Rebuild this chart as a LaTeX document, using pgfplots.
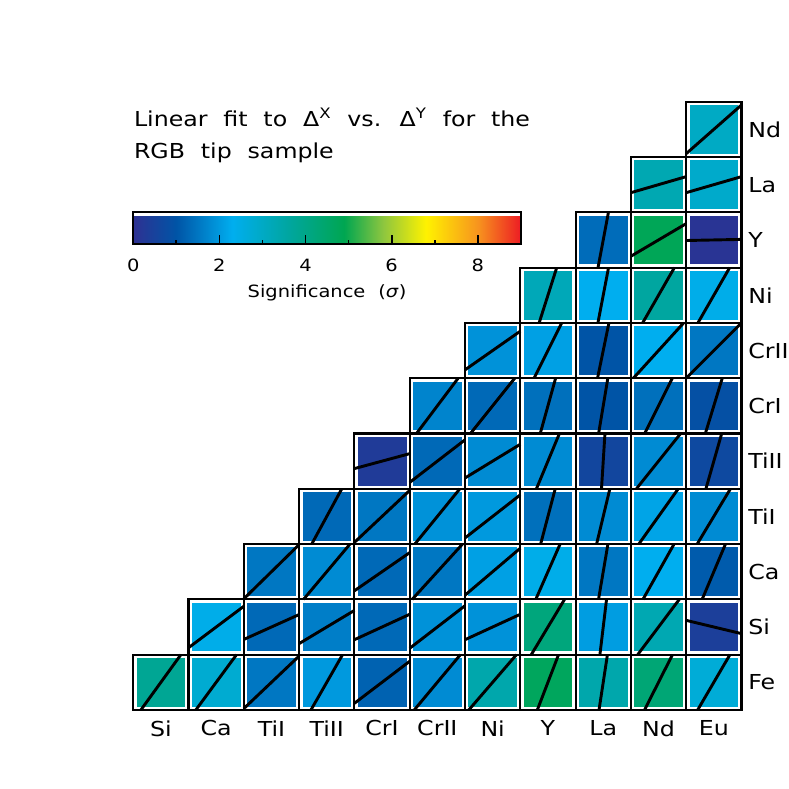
\documentclass[border=0pt]{standalone}
\usepackage{pgfplots}
\pgfplotsset{compat=1.18}
\usepackage{pgfplotstable}
\usepackage{fontspec}
\setmainfont{DejaVu Sans}[FakeStretch=1.15, WordSpace=2.1]

% cell: column, row, significance
\pgfplotstableread{
x y v
0 0 3.8
1 0 2.8
2 0 1.5
3 0 2.0
4 0 1.2
5 0 1.8
6 0 3.4
7 0 4.7
8 0 3.4
9 0 4.3
10 0 2.7
1 1 2.4
2 1 1.3
3 1 1.6
4 1 1.3
5 1 1.9
6 1 1.9
7 1 4.2
8 1 2.05
9 1 3.3
10 1 0.4
2 2 1.5
3 2 1.8
4 2 1.3
5 2 1.5
6 2 2.1
7 2 2.4
8 2 1.5
9 2 2.3
10 2 1.1
3 3 1.3
4 3 1.5
5 3 1.9
6 3 2.0
7 3 1.4
8 3 1.8
9 3 2.15
10 3 1.8
4 4 0.3
5 4 1.3
6 4 1.8
7 4 1.8
8 4 0.6
9 4 1.8
10 4 0.7
5 5 1.7
6 5 1.3
7 5 1.4
8 5 1.0
9 5 1.4
10 5 0.9
6 6 1.9
7 6 2.1
8 6 1.0
9 6 2.3
10 6 1.5
7 7 3.2
8 7 2.3
9 7 3.6
10 7 2.4
8 8 1.35
9 8 4.8
10 8 0.1
9 9 3.3
10 9 2.9
10 10 3.0
}\cells

% fit lines: two end points per cell, cut at the cell frame
\pgfplotstableread{
x y
-0.362 -0.5
0.362 0.5
nan nan
0.632 -0.5
1.368 0.5
nan nan
1.5 -0.475
2.5 0.475
nan nan
2.714 -0.5
3.286 0.5
nan nan
3.5 -0.38
4.5 0.38
nan nan
4.583 -0.5
5.417 0.5
nan nan
5.569 -0.5
6.431 0.5
nan nan
6.808 -0.5
7.192 0.5
nan nan
7.924 -0.5
8.076 0.5
nan nan
8.747 -0.5
9.253 0.5
nan nan
9.708 -0.5
10.292 0.5
nan nan
0.5 0.625
1.5 1.375
nan nan
1.5 0.775
2.5 1.225
nan nan
2.5 0.7
3.5 1.3
nan nan
3.5 0.77
4.5 1.23
nan nan
4.5 0.615
5.5 1.385
nan nan
5.5 0.77
6.5 1.23
nan nan
6.699 0.5
7.301 1.5
nan nan
7.94 0.5
8.06 1.5
nan nan
8.624 0.5
9.376 1.5
nan nan
9.5 1.12
10.5 0.88
nan nan
1.5 1.51
2.5 2.49
nan nan
2.58 1.5
3.42 2.5
nan nan
3.5 1.655
4.5 2.345
nan nan
4.545 1.5
5.455 2.5
nan nan
5.5 1.575
6.5 2.425
nan nan
6.78 1.5
7.22 2.5
nan nan
7.915 1.5
8.085 2.5
nan nan
8.719 1.5
9.281 2.5
nan nan
9.789 1.5
10.211 2.5
nan nan
2.728 2.5
3.272 3.5
nan nan
3.5 2.53
4.5 3.47
nan nan
4.593 2.5
5.407 3.5
nan nan
5.5 2.61
6.5 3.39
nan nan
6.868 2.5
7.132 3.5
nan nan
7.88 2.5
8.12 3.5
nan nan
8.643 2.5
9.357 3.5
nan nan
9.699 2.5
10.301 3.5
nan nan
3.5 3.865
4.5 4.135
nan nan
4.5 3.615
5.5 4.385
nan nan
5.5 3.695
6.5 4.305
nan nan
6.792 3.5
7.208 4.5
nan nan
7.969 3.5
8.031 4.5
nan nan
8.6 3.5
9.4 4.5
nan nan
9.857 3.5
10.143 4.5
nan nan
4.624 4.5
5.376 5.5
nan nan
5.6 4.5
6.4 5.5
nan nan
6.861 4.5
7.139 5.5
nan nan
7.917 4.5
8.083 5.5
nan nan
8.75 4.5
9.25 5.5
nan nan
9.847 4.5
10.153 5.5
nan nan
5.5 5.65
6.5 6.35
nan nan
6.75 5.5
7.25 6.5
nan nan
7.897 5.5
8.103 6.5
nan nan
8.545 5.5
9.455 6.5
nan nan
9.5 5.5
10.5 6.5
nan nan
6.841 6.5
7.159 7.5
nan nan
7.904 6.5
8.096 7.5
nan nan
8.713 6.5
9.287 7.5
nan nan
9.713 6.5
10.287 7.5
nan nan
7.906 7.5
8.094 8.5
nan nan
8.5 7.705
9.5 8.295
nan nan
9.5 7.99
10.5 8.01
nan nan
8.5 8.855
9.5 9.145
nan nan
9.5 8.855
10.5 9.145
nan nan
9.5 9.56
10.5 10.44
}\segs

\begin{document}
\begin{tikzpicture}
% axis box spans (0,0)--(11cm,11cm); page = data (-2.91..11.36, -1.93..12.34)
\useasboundingbox (-2.41cm,-1.43cm) rectangle (11.86cm,12.84cm);
\begin{axis}[
  width=11cm, height=11cm, scale only axis,
  xmin=-0.5, xmax=10.5, ymin=-0.5, ymax=10.5,
  clip=false, clip marker paths=true,
  unbounded coords=jump,
  axis line style={draw=none},
  major tick length=0pt, minor tick length=0pt,
  xtick={0,...,10},
  xticklabels={Si,Ca,TiI,TiII,CrI,CrII,Ni,Y,La,Nd,Eu},
  ytick={0,...,10},
  yticklabels={Fe,Si,Ca,TiI,TiII,CrI,CrII,Ni,Y,La,Nd},
  yticklabel pos=right,
  ticklabel style={font=\fontsize{10.6}{12}\selectfont},
  xticklabel style={yshift=-2pt},
  colormap={sig}{rgb255(0mm)=(46,49,146); rgb255(10mm)=(0,84,166);
    rgb255(23mm)=(0,174,239); rgb255(36mm)=(0,166,160);
    rgb255(49mm)=(0,166,81); rgb255(58mm)=(141,198,63);
    rgb255(68mm)=(255,242,0); rgb255(80mm)=(247,148,30);
    rgb255(90mm)=(237,28,36)},
  point meta min=0, point meta max=9,
  colorbar horizontal,
  colorbar shift/.style={},
  colorbar style={
    at={(parent axis.north west)}, anchor=north west, yshift=-2cm,
    width=7.01cm, height=0.58cm, scale only axis,
    axis line style={draw=black, line width=1pt},
    xtick={0,2,4,6,8}, xticklabels={0,2,4,6,8},
    minor xtick={1,3,5,7},
    ytick=\empty,
    xtick pos=left, xticklabel pos=left,
    tick align=inside,
    major tick length=4.6pt, minor tick length=2.4pt,
    tick style={black, line width=0.9pt},
    every x tick label/.style={yshift=-4pt},
    every y tick label/.style={},
    ticklabel style={font=\fontsize{8.7}{10}\selectfont},
    xlabel={Significance (\textit{σ})},
    xlabel style={font=\fontsize{8.7}{10}\selectfont},
  },
]
% colored fills
\addplot[scatter, only marks, mark=square*, mark size=12.27pt,
  scatter src=explicit,
  scatter/use mapped color={draw=mapped color, fill=mapped color}]
  table[x=x, y=y, meta=v] {\cells};
% black cell frames
\addplot[only marks, mark=square, mark size=14.226pt,
  mark options={solid, draw=black, line width=1.1pt}]
  table[x=x, y=y] {\cells};
% fit slopes
\addplot[black, line width=1.5pt, line cap=butt] table[x=x, y=y] {\segs};

\node[anchor=base west, font=\fontsize{10.6}{12}\selectfont]
  at (axis cs:-0.61,10.06) {Linear fit to Δ\textsuperscript{X} vs. Δ\textsuperscript{Y} for the};
\node[anchor=base west, font=\fontsize{10.6}{12}\selectfont]
  at (axis cs:-0.61,9.48) {RGB tip sample};
\end{axis}
\end{tikzpicture}
\end{document}
